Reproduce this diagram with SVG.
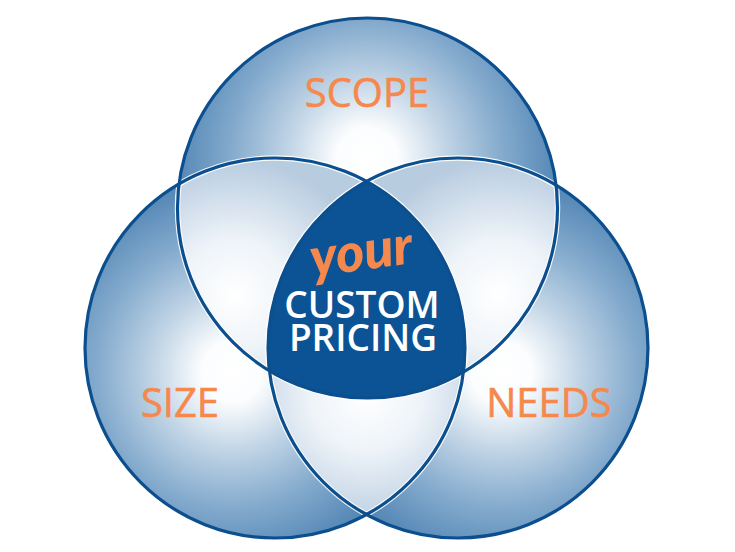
<svg xmlns="http://www.w3.org/2000/svg" width="735" height="552" viewBox="0 0 735 552">
<style>
.lbl{font-family:"Open Sans","Liberation Sans",sans-serif;font-size:40px;fill:#f5894d;stroke:#f5894d;stroke-width:0.6;text-anchor:middle}
.ctr{font-family:"Open Sans","Liberation Sans",sans-serif;font-size:37px;font-weight:600;fill:#ffffff;text-anchor:middle}
.your{font-family:Lato,"DejaVu Sans",sans-serif;font-size:54px;font-weight:900;font-style:italic;fill:#f5894d;text-anchor:middle}
.rim{fill:none;stroke:#0c4f8e;stroke-width:3.2}
.halo{fill:none;stroke:#ffffff;stroke-width:5.5;stroke-opacity:0.9}
</style>
<defs>
<clipPath id="cT"><circle cx="367.5" cy="208" r="190"/></clipPath>
<clipPath id="cL"><circle cx="275" cy="348" r="190"/></clipPath>
<clipPath id="cR"><circle cx="458" cy="348" r="190"/></clipPath>
<radialGradient id="gT" gradientUnits="userSpaceOnUse" cx="367" cy="158" r="205">
<stop offset="0" stop-color="#ffffff"/><stop offset="0.15" stop-color="#fbfdfe"/><stop offset="0.38" stop-color="#c2d5e6"/><stop offset="0.65" stop-color="#86acce"/><stop offset="0.88" stop-color="#5d8eba"/><stop offset="1" stop-color="#4e81b1"/>
</radialGradient>
<radialGradient id="gL" gradientUnits="userSpaceOnUse" cx="232" cy="372" r="205">
<stop offset="0" stop-color="#ffffff"/><stop offset="0.15" stop-color="#fbfdfe"/><stop offset="0.38" stop-color="#c2d5e6"/><stop offset="0.65" stop-color="#86acce"/><stop offset="0.88" stop-color="#5d8eba"/><stop offset="1" stop-color="#4e81b1"/>
</radialGradient>
<radialGradient id="gR" gradientUnits="userSpaceOnUse" cx="501" cy="372" r="205">
<stop offset="0" stop-color="#ffffff"/><stop offset="0.15" stop-color="#fbfdfe"/><stop offset="0.38" stop-color="#c2d5e6"/><stop offset="0.65" stop-color="#86acce"/><stop offset="0.88" stop-color="#5d8eba"/><stop offset="1" stop-color="#4e81b1"/>
</radialGradient>
<radialGradient id="gTL" gradientUnits="userSpaceOnUse" cx="235" cy="295" r="135">
<stop offset="0" stop-color="#ffffff"/><stop offset="0.4" stop-color="#eff4f9"/><stop offset="1" stop-color="#b8cce0"/>
</radialGradient>
<radialGradient id="gTR" gradientUnits="userSpaceOnUse" cx="498" cy="295" r="135">
<stop offset="0" stop-color="#ffffff"/><stop offset="0.4" stop-color="#eff4f9"/><stop offset="1" stop-color="#b8cce0"/>
</radialGradient>
<radialGradient id="gB" gradientUnits="userSpaceOnUse" cx="366" cy="395" r="135">
<stop offset="0" stop-color="#ffffff"/><stop offset="0.4" stop-color="#eff4f9"/><stop offset="1" stop-color="#b8cce0"/>
</radialGradient>
</defs>

<g id="size">
<circle cx="275" cy="348" r="190" fill="url(#gL)"/>
</g>
<g id="needs">
<circle cx="458" cy="348" r="190" fill="url(#gR)"/>
</g>
<g id="scope">
<circle cx="367.5" cy="208" r="190" fill="url(#gT)"/>
</g>

<g id="overlaps">
<circle cx="367.5" cy="208" r="190" fill="url(#gTL)" clip-path="url(#cL)"/>
<circle cx="367.5" cy="208" r="190" fill="url(#gTR)" clip-path="url(#cR)"/>
<circle cx="275" cy="348" r="190" fill="url(#gB)" clip-path="url(#cR)"/>
<g clip-path="url(#cL)">
<circle class="halo" cx="367.5" cy="208" r="190"/>
<circle class="halo" cx="458" cy="348" r="190"/>
</g>
<g clip-path="url(#cR)">
<circle class="halo" cx="367.5" cy="208" r="190"/>
<circle class="halo" cx="275" cy="348" r="190"/>
</g>
<g clip-path="url(#cT)">
<circle class="halo" cx="275" cy="348" r="190"/>
<circle class="halo" cx="458" cy="348" r="190"/>
</g>
</g>

<g id="custom-pricing">
<g clip-path="url(#cR)">
<circle cx="367.5" cy="208" r="190" fill="#0b5394" clip-path="url(#cL)"/>
</g>
</g>

<g id="outlines">
<circle class="rim" cx="275" cy="348" r="190"/>
<circle class="rim" cx="458" cy="348" r="190"/>
<circle class="rim" cx="367.5" cy="208" r="190"/>
</g>

<g id="labels">
<text class="lbl" x="367" y="107">SCOPE</text>
<text class="lbl" x="180" y="417">SIZE</text>
<text class="lbl" x="549" y="417">NEEDS</text>
<text class="your" x="362" y="270" transform="rotate(-8 362 258)">your</text>
<text class="ctr"><tspan x="362" y="318">CUSTOM</tspan><tspan x="363" y="351">PRICING</tspan></text>
</g>
</svg>
